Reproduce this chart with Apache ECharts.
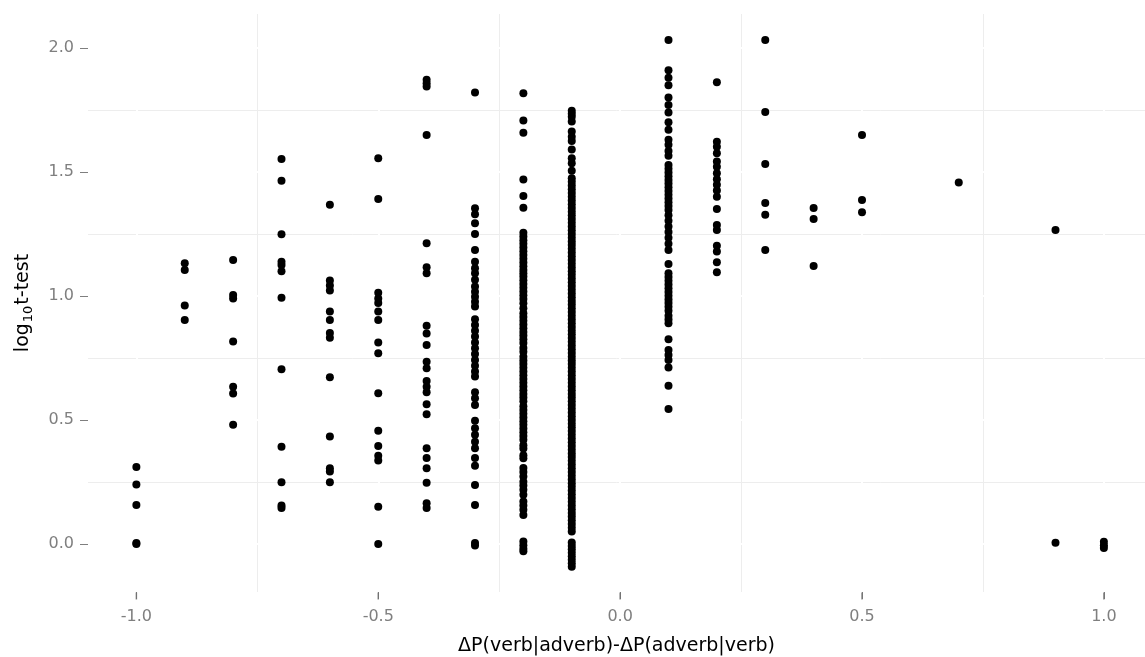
<!DOCTYPE html>
<html>
<head>
<meta charset="utf-8">
<title>deltaP vs log10 t-test</title>
<script src="https://cdn.jsdelivr.net/npm/echarts@6/dist/echarts.min.js"></script>
<style>
  html, body { margin: 0; padding: 0; background: #fff; }
  #chart { width: 1145px; height: 657px; }
</style>
</head>
<body>
<div id="chart"></div>
<script>
// x position of each column of points: dP(verb|adverb) - dP(adverb|verb)
const xCols = [-1.0, -0.9, -0.8, -0.7, -0.6, -0.5, -0.4, -0.3, -0.2, -0.1, 0.1, 0.2, 0.3, 0.4, 0.5, 0.7, 0.9, 1.0];

// log10 t-test values
const yM10 = [0.31, 0.24, 0.157, 0.0, 0.004];
const yM09 = [1.132, 1.105, 0.961, 0.903];
const yM08 = [1.145, 1.004, 0.99, 0.816, 0.634, 0.607, 0.48];
const yM07 = [1.552, 1.465, 1.249, 1.138, 1.125, 1.10, 0.993, 0.704, 0.392, 0.249, 0.155, 0.145];
const yM06 = [1.368, 1.062, 1.042, 1.022, 0.937, 0.903, 0.851, 0.831, 0.672, 0.433, 0.305, 0.292, 0.249];
const yM05 = [1.555, 1.391, 1.013, 0.99, 0.971, 0.937, 0.903, 0.812, 0.769, 0.608, 0.456, 0.395, 0.355, 0.336, 0.150, 0.0];
const yM04 = [1.872, 1.858, 1.845, 1.649, 1.212, 1.116, 1.091, 0.880, 0.849, 0.802, 0.735, 0.708, 0.657, 0.634, 0.612,
  0.563, 0.523, 0.386, 0.346, 0.305, 0.247, 0.164, 0.145];
const yM03 = [1.82, 1.354, 1.329, 1.293, 1.25, 1.185, 1.138, 1.112, 1.091, 1.065, 1.038, 1.017, 0.997, 0.977, 0.957,
  0.906, 0.883, 0.860, 0.836, 0.812, 0.789, 0.766, 0.742, 0.718, 0.695, 0.675, 0.612, 0.587, 0.560,
  0.497, 0.466, 0.440, 0.412, 0.386, 0.346, 0.315, 0.238, 0.157, 0.004, -0.006];
const yM02 = [1.817, 1.707, 1.658, 1.47, 1.403, 1.356,
  1.255, 1.24, 1.225, 1.21, 1.195, 1.18, 1.165, 1.15, 1.135, 1.12, 1.105, 1.091,
  1.078, 1.063, 1.048, 1.033, 1.018, 1.003, 0.988, 0.97, 0.95,
  0.93, 0.915, 0.90, 0.885, 0.87, 0.855, 0.84, 0.825, 0.81, 0.79, 0.775,
  0.755, 0.74, 0.725, 0.71, 0.695, 0.68, 0.665, 0.65, 0.635, 0.62, 0.605, 0.59, 0.575,
  0.555, 0.54, 0.525, 0.51, 0.495, 0.48, 0.465, 0.45, 0.435, 0.42,
  0.398, 0.385, 0.357, 0.345, 0.306, 0.29, 0.272, 0.251, 0.235, 0.218, 0.198,
  0.171, 0.155, 0.138, 0.117, 0.01, -0.005, -0.02, -0.03];
const yM01 = [1.747, 1.735, 1.723, 1.703, 1.663, 1.642, 1.625, 1.591, 1.555, 1.535, 1.505,
  1.475, 1.46, 1.445, 1.43, 1.415, 1.4, 1.385, 1.37, 1.355, 1.34, 1.325, 1.31, 1.295, 1.28, 1.265,
  1.25, 1.235, 1.22, 1.205, 1.19, 1.175, 1.16, 1.145, 1.13, 1.115, 1.1, 1.085, 1.07, 1.055, 1.04,
  1.025, 1.01, 0.995, 0.98, 0.965, 0.95, 0.935, 0.92, 0.905, 0.89, 0.875, 0.86, 0.845, 0.83, 0.815,
  0.8, 0.785, 0.77, 0.755, 0.74, 0.725, 0.71, 0.695, 0.68, 0.665, 0.65, 0.635, 0.62, 0.605, 0.59,
  0.575, 0.56, 0.545, 0.53, 0.515, 0.5, 0.485, 0.47, 0.455, 0.44, 0.425, 0.41, 0.395, 0.38, 0.365,
  0.35, 0.335, 0.32, 0.305, 0.29, 0.275, 0.26, 0.245, 0.23, 0.215, 0.2, 0.185, 0.17, 0.155, 0.14,
  0.125, 0.11, 0.095, 0.08, 0.065, 0.05,
  0.006, -0.008, -0.022, -0.036, -0.05, -0.064, -0.078, -0.092];
const yP01 = [2.032, 1.91, 1.88, 1.85, 1.80, 1.77, 1.74, 1.70, 1.67, 1.63, 1.61, 1.585, 1.565,
  1.528, 1.513, 1.498, 1.483, 1.468, 1.453, 1.438, 1.423, 1.408, 1.393, 1.378, 1.363,
  1.347, 1.325, 1.303, 1.28, 1.258, 1.235, 1.21, 1.185, 1.129,
  1.091, 1.076, 1.061, 1.046, 1.031, 1.016, 1.001, 0.986, 0.971, 0.956, 0.94, 0.92, 0.905, 0.89,
  0.825, 0.782, 0.762, 0.742, 0.711, 0.638, 0.544];
const yP02 = [1.862, 1.622, 1.602, 1.575, 1.542, 1.521, 1.495, 1.471, 1.448, 1.425, 1.400, 1.351, 1.286, 1.266,
  1.202, 1.179, 1.136, 1.096];
const yP03 = [2.032, 1.742, 1.532, 1.375, 1.327, 1.185];
const yP04 = [1.355, 1.31, 1.121];
const yP05 = [1.649, 1.387, 1.337];
const yP07 = [1.457];
const yP09 = [1.266, 0.005];
const yP10 = [0.009, -0.005, -0.017];

const yCols = [yM10, yM09, yM08, yM07, yM06, yM05, yM04, yM03, yM02, yM01,
  yP01, yP02, yP03, yP04, yP05, yP07, yP09, yP10];

// tick values (major) and the faint minor grid between them
const xMajor = [-1.0, -0.5, 0.0, 0.5, 1.0];
const xMinor = [-0.75, -0.25, 0.25, 0.75];
const yMajor = [0.0, 0.5, 1.0, 1.5, 2.0];
const yMinor = [0.25, 0.75, 1.25, 1.75];

// panel extent (ggplot-style padding around the data)
const X_MIN = -1.1, X_MAX = 1.085;
const Y_MIN = -0.194, Y_MAX = 2.137;

const points = [];
xCols.forEach((x, i) => {
  yCols[i].forEach(y => points.push([x, y]));
});

const chart = echarts.init(document.getElementById('chart'));

const FONT = 'DejaVu Sans, Verdana, sans-serif';
const labelStyle = {
  color: '#7f7f7f',
  fontSize: 16,
  fontFamily: FONT
};
const nameStyle = {
  color: '#000',
  fontSize: 19,
  fontFamily: FONT
};

const options = {
  backgroundColor: '#fff',
  animation: false,
  // keep the panel exactly where it is, don't let v6 shrink it for the labels
  grid: {left: 88, right: 0, top: 14, bottom: 65, outerBoundsMode: 'none'},
  xAxis: [
    {
      type: 'value',
      position: 'bottom',
      min: X_MIN,
      max: X_MAX,
      z: 1,
      name: 'ΔP(verb|adverb)-ΔP(adverb|verb)',
      nameLocation: 'middle',
      nameGap: 45,
      nameTextStyle: nameStyle,
      axisLine: {show: false, onZero: false},
      axisTick: {show: true, customValues: xMajor, length: 7, lineStyle: {color: '#7f7f7f', width: 1}},
      axisLabel: Object.assign({customValues: xMajor, margin: 17, formatter: v => v.toFixed(1)}, labelStyle),
      splitLine: {show: true, lineStyle: {color: '#ffffff', width: 2}}
    },
    {
      // minor grid only
      type: 'value',
      position: 'top',
      min: X_MIN,
      max: X_MAX,
      z: 0,
      axisLine: {show: false, onZero: false},
      axisTick: {show: false, customValues: xMinor},
      axisLabel: {show: false, customValues: xMinor},
      splitLine: {show: true, lineStyle: {color: '#ededed', width: 1}}
    }
  ],
  yAxis: [
    {
      type: 'value',
      position: 'left',
      min: Y_MIN,
      max: Y_MAX,
      z: 1,
      name: 'log{sub|10}t-test',
      nameLocation: 'middle',
      nameGap: 53,
      nameTextStyle: Object.assign({
        rich: {
          sub: {fontSize: 13, padding: [10, 1, 0, 1], fontFamily: FONT, color: '#000'}
        }
      }, nameStyle),
      axisLine: {show: false, onZero: false},
      axisTick: {show: true, customValues: yMajor, length: 8, lineStyle: {color: '#7f7f7f', width: 1}},
      axisLabel: Object.assign({customValues: yMajor, margin: 14, formatter: v => v.toFixed(1)}, labelStyle),
      splitLine: {show: true, lineStyle: {color: '#ffffff', width: 2}}
    },
    {
      type: 'value',
      position: 'right',
      min: Y_MIN,
      max: Y_MAX,
      z: 0,
      axisLine: {show: false, onZero: false},
      axisTick: {show: false, customValues: yMinor},
      axisLabel: {show: false, customValues: yMinor},
      splitLine: {show: true, lineStyle: {color: '#ededed', width: 1}}
    }
  ],
  series: [
    {
      type: 'scatter',
      xAxisIndex: 0,
      yAxisIndex: 0,
      data: points,
      symbol: 'circle',
      symbolSize: 8,
      silent: true,
      itemStyle: {color: '#000', opacity: 1}
    },
    {
      // short tick marks under the panel at the x labels
      type: 'scatter',
      xAxisIndex: 0,
      yAxisIndex: 0,
      data: xMajor.map(x => [x, Y_MIN]),
      symbol: 'rect',
      symbolSize: [1.5, 7],
      symbolOffset: [0, 4],
      clip: false,
      silent: true,
      z: 5,
      itemStyle: {color: '#6f6f6f'}
    }
  ]
};

chart.setOption(options);
</script>
</body>
</html>
